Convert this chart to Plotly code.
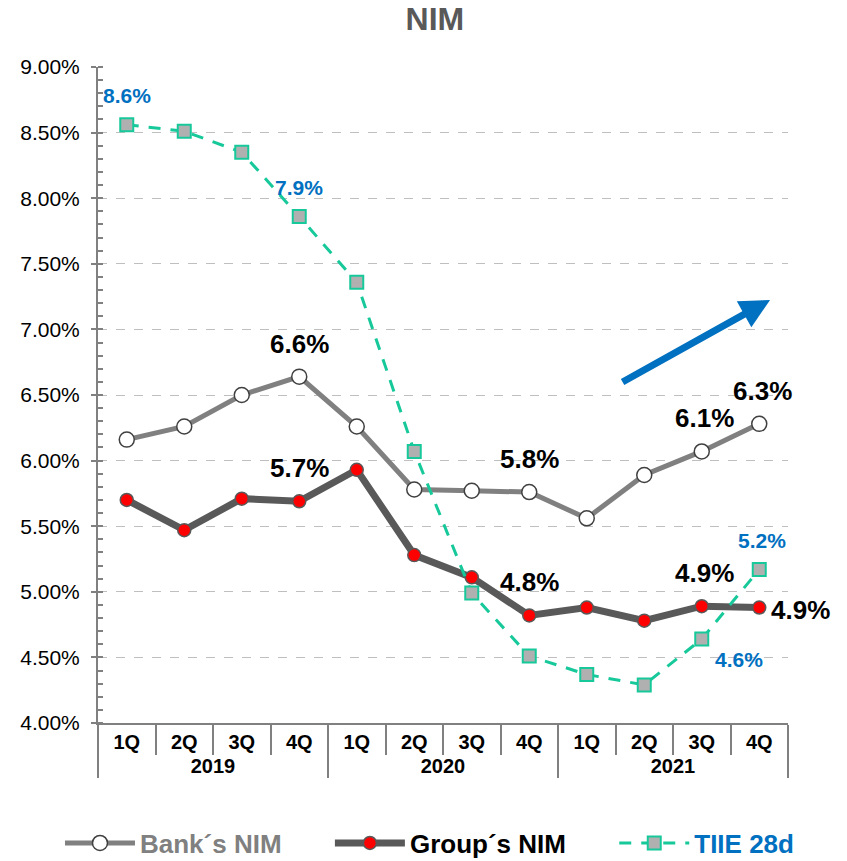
import plotly.graph_objects as go

years = ["2019"] * 4 + ["2020"] * 4 + ["2021"] * 4
quarters = ["1Q", "2Q", "3Q", "4Q"] * 3

bank_nim = [6.16, 6.26, 6.50, 6.64, 6.26, 5.78, 5.77, 5.76, 5.56, 5.89, 6.07, 6.28]
group_nim = [5.70, 5.47, 5.71, 5.69, 5.93, 5.28, 5.11, 4.82, 4.88, 4.78, 4.89, 4.88]
tiie_28d = [8.56, 8.51, 8.35, 7.86, 7.36, 6.07, 4.99, 4.51, 4.37, 4.29, 4.64, 5.17]

bank_labels = ["", "", "", "6.6%", "", "", "", "5.8%", "", "", "6.1%", "6.3%"]
group_labels = ["", "", "", "5.7%", "", "", "", "4.8%", "", "", "4.9%", "4.9%"]
tiie_labels = ["8.6%", "", "", "7.9%", "", "", "", "", "", "", "4.6%", "5.2%"]

y_ticks = [4.0, 4.5, 5.0, 5.5, 6.0, 6.5, 7.0, 7.5, 8.0, 8.5, 9.0]

FONT = "Liberation Sans, Arial, sans-serif"
GRAY_LINE = "#808080"
DARK = "#595959"
TEAL = "#17C99A"
BLUE = "#0070C0"
NB = "\u00a0"

x = [years, quarters]

fig = go.Figure()
fig.add_trace(go.Scatter(
    x=x, y=bank_nim, mode="lines+markers",
    name="<span style='color:#808080'>Bank´s NIM" + NB * 6 + "</span>",
    line=dict(color=GRAY_LINE, width=5),
    marker=dict(symbol="circle", size=15, color="white", line=dict(color="#404040", width=1.5)),
))
fig.add_trace(go.Scatter(
    x=x, y=group_nim, mode="lines+markers",
    name="<span style='color:#000000'>Group´s NIM" + NB * 6 + "</span>",
    line=dict(color=DARK, width=7),
    marker=dict(symbol="circle", size=13, color="#FF0000", line=dict(color=DARK, width=1.5)),
))
fig.add_trace(go.Scatter(
    x=x, y=tiie_28d, mode="lines+markers",
    name="<span style='color:#0070C0'>TIIE 28d</span>",
    line=dict(color=TEAL, width=3, dash="12px,10px"),
    marker=dict(symbol="square", size=13, color="#B0B0B0", line=dict(color=TEAL, width=2)),
))

BIG = dict(family=FONT, size=26, color="black", weight="bold")
SMALL = dict(family=FONT, size=21, color=BLUE, weight="bold")

annotations = []
for i, t in enumerate(bank_labels):
    if t:
        annotations.append(dict(x=i, y=bank_nim[i], xref="x", yref="y", text=t, showarrow=False,
                                xanchor="center", yanchor="middle", xshift=3 if i >= 10 else 0, yshift=33,
                                font=BIG))
for i, t in enumerate(group_labels):
    if t:
        if i == 11:
            annotations.append(dict(x=i, y=group_nim[i], xref="x", yref="y", text=t, showarrow=False,
                                    xanchor="left", yanchor="middle", xshift=10, yshift=-2, font=BIG))
        else:
            annotations.append(dict(x=i, y=group_nim[i], xref="x", yref="y", text=t, showarrow=False,
                                    xanchor="center", yanchor="middle", xshift=3 if i >= 10 else 0, yshift=33,
                                    font=BIG))
for i, t in enumerate(tiie_labels):
    if t:
        if i == 10:
            annotations.append(dict(x=i, y=tiie_28d[i], xref="x", yref="y", text=t, showarrow=False,
                                    xanchor="center", yanchor="middle", xshift=37, yshift=-20, font=SMALL))
        else:
            annotations.append(dict(x=i, y=tiie_28d[i], xref="x", yref="y", text=t, showarrow=False,
                                    xanchor="center", yanchor="middle", xshift=3 if i == 11 else 0, yshift=29,
                                    font=SMALL))

# trend arrow
annotations.append(dict(x=0.974, y=0.645, xref="paper", yref="paper", text="", showarrow=True,
                        ax=-149, ay=83, axref="pixel", ayref="pixel",
                        arrowhead=2, arrowsize=0.85, arrowwidth=7, arrowcolor=BLUE))

fig.update_layout(
    width=847, height=861,
    margin=dict(l=98, r=59, t=67, b=138, autoexpand=False),
    paper_bgcolor="white", plot_bgcolor="white",
    font=dict(family=FONT, color="black"),
    title=dict(text="NIM", x=0.5135, xref="container", xanchor="center",
               y=1 - 19 / 861, yref="container", yanchor="middle",
               font=dict(family=FONT, size=32, color=DARK, weight="bold")),
    showlegend=True,
    legend=dict(orientation="h", xref="paper", x=-0.0551, xanchor="left",
                yref="paper", y=-0.183, yanchor="middle",
                font=dict(family=FONT, size=26, weight="bold"), bgcolor="rgba(0,0,0,0)",
                itemwidth=70, tracegroupgap=0),
    annotations=annotations,
)
fig.update_yaxes(
    range=[4.0, 9.0], tickvals=y_ticks, ticktext=[f"{v:.2f}%" for v in y_ticks],
    tickfont=dict(family=FONT, size=21, color="black"),
    showline=True, linecolor=GRAY_LINE, linewidth=2,
    ticks="outside", ticklen=5, tickcolor=GRAY_LINE, tickwidth=2,
    ticklabelstandoff=7, automargin=False,
    showgrid=True, gridcolor="#BFBFBF", griddash="dash", gridwidth=1,
    zeroline=False,
    minor=dict(dtick=0.1, tick0=4.0, ticks="inside", ticklen=5, tickcolor=GRAY_LINE, tickwidth=1.5, showgrid=False),
)
fig.update_xaxes(
    type="multicategory", range=[-0.5, 11.5], automargin=False,
    tickfont=dict(family=FONT, size=20, color="black", weight="bold"),
    showline=True, linecolor=GRAY_LINE, linewidth=2,
    ticks="outside", ticklen=30, tickcolor=GRAY_LINE, tickwidth=2, tickson="boundaries",
    showdividers=True, dividercolor=GRAY_LINE, dividerwidth=2,
    showgrid=False, zeroline=False,
)

fig.write_html("out.html", config={"displayModeBar": False},
               post_script="document.body.style.margin='0';document.body.style.overflow='hidden';")
